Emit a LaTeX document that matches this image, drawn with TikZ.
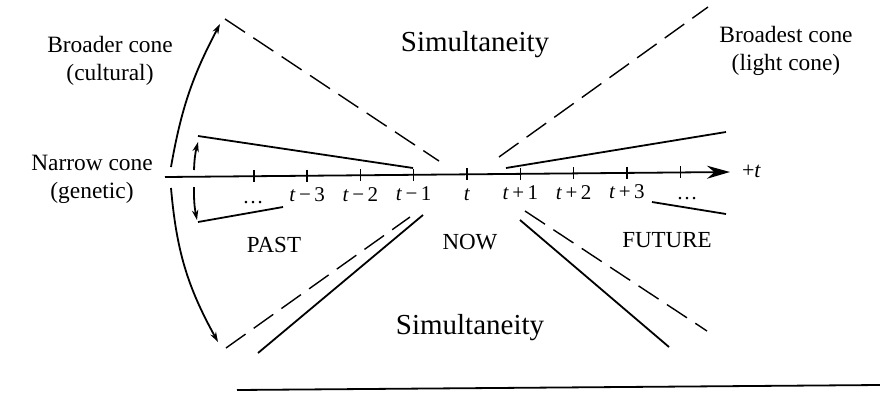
\documentclass[tikz,border=0pt]{standalone}
\usepackage{fontspec}
\setmainfont{Liberation Serif}
\usetikzlibrary{arrows.meta, calc}

\begin{document}
\begin{tikzpicture}[x=0.5pt, y=-0.5pt,
    lbl/.style={font=\fontsize{11.7}{14}\selectfont, align=center},
    big/.style={font=\fontsize{14.5}{16}\selectfont},
    era/.style={font=\fontsize{11.5}{13}\selectfont},
    tlbl/.style={font=\fontsize{10.5}{12}\selectfont, anchor=base},
    cone/.style={line width=0.9pt},
    lightcone/.style={line width=0.7pt, dash pattern=on 12pt off 5pt},
    tickmark/.style={line width=0.7pt},
    widen/.style={line width=0.9pt, -{Stealth[length=5pt,width=3.2pt]}}]
  \useasboundingbox (0,0) rectangle (880,392);

  % time axis
  \coordinate (axL) at (165,177);
  \coordinate (axR) at (730,172);
  \draw[line width=0.9pt, -{Stealth[length=11.5pt,width=6.5pt]}] (axL) -- (axR);
  \node[font=\fontsize{11}{12}\selectfont, anchor=west] (plust) at (735,171) {+\textit{t}};
  \foreach \i in {-4,...,4}{
    \pgfmathsetmacro{\tx}{467+53.3*\i}
    \pgfmathsetmacro{\ty}{177-5*(\tx-165)/565}
    \draw[tickmark] (\tx,\ty-6) -- (\tx,\ty+6);
  }
  \foreach \i/\txt in {-3/\textit{t}\,−\,3, -2/\textit{t}\,−\,2, -1/\textit{t}\,−\,1,
                       0/\textit{t}, 1/\textit{t}\,+\,1, 2/\textit{t}\,+\,2, 3/\textit{t}\,+\,3}{
    \pgfmathsetmacro{\tx}{467+53.3*\i}
    \pgfmathsetmacro{\ty}{177-5*(\tx-165)/565}
    \node[tlbl] (tl\i) at (\tx,\ty+26) {\txt};
  }
  \node[tlbl] (dotsL) at (253,203) {\ldots};
  \node[tlbl] (dotsR) at (687,199) {\ldots};

  % narrow cone (genetic)
  \draw[cone] (198,136) -- (413,168);
  \draw[cone] (198,222) -- (283,207);
  \draw[cone] (506,168) -- (726,132);
  \draw[cone] (652,202) -- (726,214);

  % broader cone (cultural)
  \draw[lightcone] (225,19) -- (439,161);
  \draw[lightcone] (226,348) -- (410,217);
  \draw[cone] (258,353) -- (423,215);
  \draw[cone] (520,220) -- (669,347);

  % broadest cone (light cone)
  \draw[lightcone] (499,157) -- (708,7);
  \draw[lightcone] (525,211) -- (707,331);

  % widening arrows
  \coordinate (nUpA) at (194,170);
  \coordinate (nUpB) at (198,142);
  \coordinate (nDnA) at (194,187);
  \coordinate (nDnB) at (197,220);
  \coordinate (bUpA) at (171,167);
  \coordinate (bUpB) at (220,24);
  \coordinate (bDnA) at (171,188);
  \coordinate (bDnB) at (218,342);
  \draw[widen] (nUpA) to[bend left=6] (nUpB);
  \draw[widen] (nDnA) to[bend right=6] (nDnB);
  \draw[widen] (bUpA) to[bend left=9] (bUpB);
  \draw[widen] (bDnA) to[bend right=12] (bDnB);

  % labels
  \node[lbl] (broader) at (110,61) {Broader cone\\(cultural)};
  \node[lbl] (narrow) at (92,179) {Narrow cone\\(genetic)};
  \node[lbl] (broadest) at (786,51) {Broadest cone\\(light cone)};
  \node[big] (simtop) at (475,45) {Simultaneity};
  \node[big] (simbot) at (470,328) {Simultaneity};
  \node[era] (past) at (274,245) {PAST};
  \node[era] (now) at (470,242) {NOW};
  \node[era] (future) at (667,240) {FUTURE};

  \draw[line width=0.9pt] (237,390) -- (880,385);
\end{tikzpicture}
\end{document}
